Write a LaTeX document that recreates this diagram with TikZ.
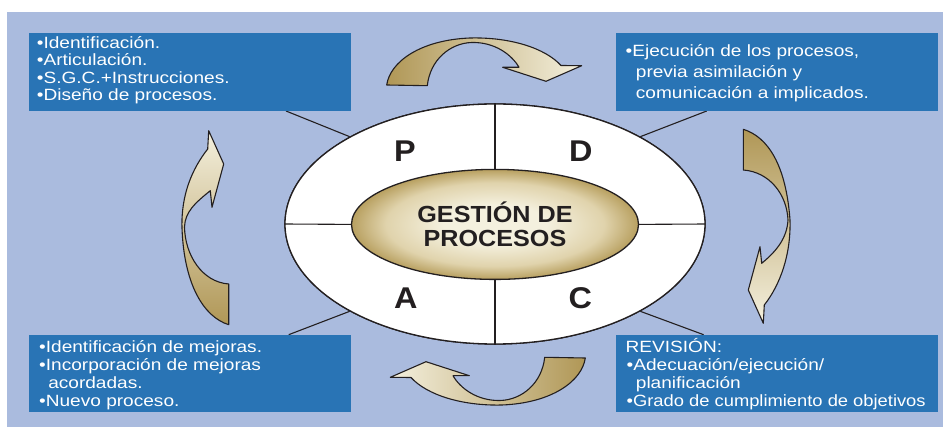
\documentclass[tikz,border=0pt]{standalone}
\usepackage{fontspec}
\setmainfont{Liberation Sans}
\newfontfamily\boxfont[FakeStretch=1.17]{Liberation Sans}
\newfontfamily\boxfontn[FakeStretch=1.125]{Liberation Sans}
\newfontfamily\cfont[FakeStretch=1.08]{Liberation Sans}
\usetikzlibrary{shapes.geometric}
\definecolor{bgblue}{RGB}{170,187,222}
\definecolor{boxblue}{RGB}{41,116,181}
\definecolor{golddark}{RGB}{176,151,86}
\definecolor{goldedge}{RGB}{184,160,96}
\definecolor{goldmid}{RGB}{224,211,172}
\definecolor{goldlight}{RGB}{244,240,222}
\definecolor{ink}{RGB}{35,31,32}
\pgfdeclareradialshading{goldrad}{\pgfpoint{0bp}{0bp}}{color(0bp)=(goldlight); color(9bp)=(goldlight); color(19bp)=(goldmid); color(25bp)=(goldedge); color(50bp)=(goldedge)}
\tikzset{
  infobox/.style={fill=boxblue, minimum width=322pt, minimum height=77.7pt, inner sep=0pt, draw=none},
  txt/.style={anchor=base west, inner sep=0pt, text=white, font={\boxfont\fontsize{16.3}{19}\selectfont}},
  txtn/.style={anchor=base west, inner sep=0pt, text=white, font={\boxfontn\fontsize{16.3}{19}\selectfont}},
  conn/.style={draw=ink, line width=1.1pt},
  letter/.style={anchor=base, inner sep=0pt, text=ink, font={\cfont\bfseries\fontsize{30}{30}\selectfont}},
  ctext/.style={anchor=base, inner sep=0pt, text=ink, font={\cfont\bfseries\fontsize{23.3}{24}\selectfont}},
  ribbon/.style={draw=ink, line width=1.1pt, line join=round},
  ring/.style={ellipse, draw=ink, line width=1.3pt, inner sep=0pt}
}
\begin{document}
\begin{tikzpicture}[x=1pt,y=-1pt]
\useasboundingbox (0,0) rectangle (943,430);
\fill[white] (0,0) rectangle (943,430);
\fill[bgblue] (7,12) rectangle (943,427);

% outer ellipse node (defined first for connectors)
\node[ring, fill=white, minimum width=420pt, minimum height=240pt] (outer) at (495,224) {};

% connectors from boxes to the ring
\coordinate (ctl) at (286,111);
\coordinate (ctr) at (706.7,111);
\coordinate (cbl) at (288.7,334.7);
\coordinate (cbr) at (703.6,334.7);
\draw[conn] (ctl) -- (outer.149);
\draw[conn] (ctr) -- (outer.31);
\draw[conn] (cbl) -- (outer.211);
\draw[conn] (cbr) -- (outer.329);

% redraw ring on top of connectors
\node[ring, fill=white, minimum width=420pt, minimum height=240pt] (outer) at (495,224) {};

% boxes
\node[infobox] (tl) at (190,72.15) {};
\node[infobox] (tr) at (776.75,72.15) {};
\node[infobox] (bl) at (190,373.6) {};
\node[infobox] (br) at (777,373.6) {};

% box texts
\node[txt] (tl1) at (36.7,48.3) {•Identificación.};
\node[txt] (tl2) at (36.7,65.9) {•Articulación.};
\node[txt] (tl3) at (36.7,83.4) {•S.G.C.+Instrucciones.};
\node[txt] (tl4) at (36.7,101) {•Diseño de procesos.};

\node[txt] (tr1) at (625.5,56.8) {•Ejecución de los procesos,};
\node[txt] (tr2) at (635.7,77.6) {previa asimilación y};
\node[txt] (tr3) at (635.7,98.4) {comunicación a implicados.};

\node[txt] (bl1) at (39,352.2) {•Identificación de mejoras.};
\node[txt] (bl2) at (39,370.2) {•Incorporación de mejoras};
\node[txt] (bl3) at (48.1,388.2) {acordadas.};
\node[txt] (bl4) at (39,406.1) {•Nuevo proceso.};

\node[txt] (br1) at (625.5,352.2) {REVISIÓN:};
\node[txt] (br2) at (626.5,370.2) {•Adecuación/ejecución/};
\node[txt] (br3) at (635.7,388.2) {planificación};
\node[txtn] (br4) at (626.5,406.1) {•Grado de cumplimiento de objetivos};

% inner ellipse
\node[ring, shading=goldrad, minimum width=287pt, minimum height=110pt] (inner) at (495,224.4) {};

% dividing lines
\draw[conn] (outer.north) -- (inner.north);
\draw[conn] (inner.south) -- (outer.south);
\draw[conn] (outer.west) -- (inner.west);
\draw[conn] (inner.east) -- (outer.east);

% letters
\node[letter] (lp) at (405,161.7) {P};
\node[letter] (ld) at (580.8,161.7) {D};
\node[letter] (la) at (405.8,308.3) {A};
\node[letter] (lc) at (580.3,308.3) {C};

\node[ctext] (g1) at (495,222.7) {GESTIÓN DE};
\node[ctext] (g2) at (495,246.7) {PROCESOS};

% top arrow
\shadedraw[ribbon, left color=golddark, right color=goldlight]
 (386.7,85) .. controls (390,62) and (420,40) .. (470,38)
 .. controls (510,37) and (545,48) .. (561,65.5)
 -- (581.7,65.7) -- (546,81.3) -- (502.7,67.3) -- (519,67.3)
 .. controls (512,55) and (495,42) .. (472,42.5)
 .. controls (450,43) and (430,60) .. (427.3,85.7) -- cycle;

% bottom arrow
\shadedraw[ribbon, left color=goldlight, right color=golddark]
 (585.3,358) .. controls (582,381) and (552,403) .. (502,405)
 .. controls (462,406) and (427,395) .. (411,377.5)
 -- (390.3,377.3) -- (426,361.7) -- (469.3,375.7) -- (453,375.7)
 .. controls (460,388) and (477,401) .. (500,400.5)
 .. controls (522,400) and (542,383) .. (544.7,357.3) -- cycle;

% right arrow
\shadedraw[ribbon, top color=golddark, bottom color=goldlight]
 (743.3,129.3) .. controls (768,137) and (786,165) .. (790,220)
 .. controls (791,255) and (780,285) .. (764.3,305)
 -- (763.3,323.3) -- (748.3,290) -- (760,246.7) -- (761.7,263.3)
 .. controls (778,250) and (787,237) .. (788,220)
 .. controls (787,195) and (770,172) .. (743.3,170) -- cycle;

% left arrow
\shadedraw[ribbon, top color=goldlight, bottom color=golddark]
 (228.7,324.7) .. controls (204,317) and (184,285) .. (182,228)
 .. controls (181,195) and (192,169) .. (207.7,149)
 -- (208.7,130.7) -- (223.7,164) -- (212,207.3) -- (210.3,190.7)
 .. controls (195,203) and (185,212) .. (184.5,227)
 .. controls (185,255) and (202,282) .. (228.7,284) -- cycle;
\end{tikzpicture}
\end{document}
